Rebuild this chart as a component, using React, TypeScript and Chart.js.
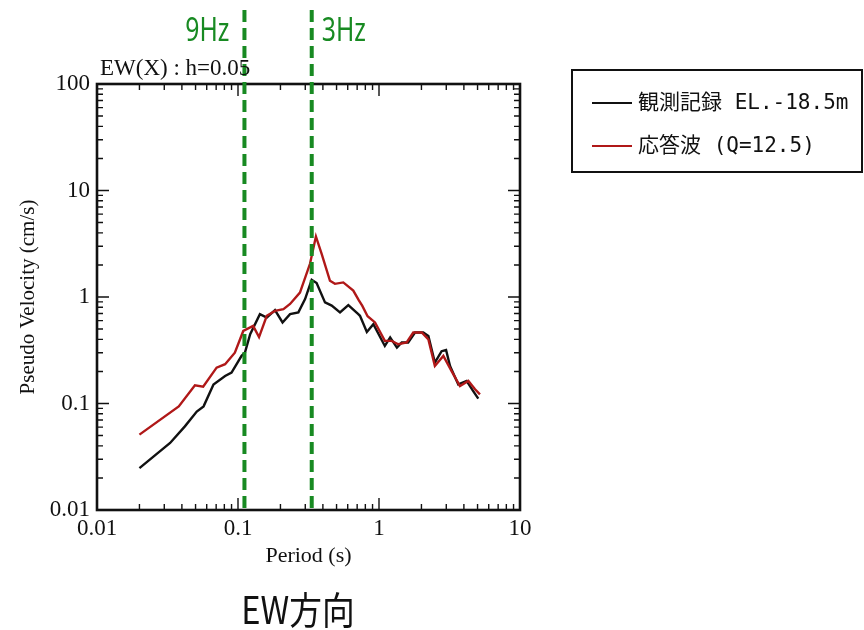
import React, { useEffect, useRef } from "react";
import { Chart, registerables } from "chart.js";

Chart.register(...registerables);

// ---- data (period in s, pseudo velocity in cm/s) ----
const observedPeriod = [0.020, 0.033, 0.042, 0.051, 0.057, 0.067, 0.081, 0.090, 0.106, 0.112, 0.122, 0.143, 0.160, 0.183, 0.207, 0.234, 0.268, 0.299, 0.333, 0.361, 0.414, 0.462, 0.529, 0.606, 0.713, 0.733, 0.82, 0.912, 1.10, 1.20, 1.34, 1.45, 1.61, 1.80, 2.06, 2.24, 2.49, 2.78, 2.99, 3.19, 3.65, 4.18, 4.67, 5.06];
const observedVelocity = [0.0247, 0.0426, 0.061, 0.084, 0.094, 0.151, 0.181, 0.195, 0.28, 0.30, 0.448, 0.69, 0.64, 0.754, 0.577, 0.69, 0.717, 0.957, 1.45, 1.35, 0.89, 0.83, 0.717, 0.84, 0.69, 0.666, 0.47, 0.556, 0.347, 0.417, 0.335, 0.374, 0.374, 0.464, 0.464, 0.431, 0.242, 0.31, 0.318, 0.225, 0.151, 0.163, 0.13, 0.111];

const responsePeriod = [0.020, 0.038, 0.0495, 0.0566, 0.0705, 0.081, 0.095, 0.109, 0.128, 0.141, 0.160, 0.183, 0.210, 0.234, 0.275, 0.324, 0.357, 0.392, 0.449, 0.487, 0.558, 0.657, 0.72, 0.76, 0.83, 0.937, 1.10, 1.23, 1.37, 1.57, 1.75, 2.01, 2.24, 2.49, 2.86, 3.28, 3.75, 4.30, 4.80, 5.20];
const responseVelocity = [0.051, 0.094, 0.148, 0.144, 0.217, 0.234, 0.30, 0.48, 0.536, 0.42, 0.666, 0.74, 0.77, 0.86, 1.1, 2.05, 3.7, 2.54, 1.42, 1.33, 1.37, 1.15, 0.93, 0.83, 0.66, 0.577, 0.387, 0.387, 0.36, 0.374, 0.464, 0.464, 0.40, 0.225, 0.28, 0.20, 0.146, 0.163, 0.136, 0.122];

const seriesLabels = ["観測記録 EL.-18.5m", "応答波 (Q=12.5)"];
const markerFreqs = [9, 3];
const markerLabels = ["9Hz", "3Hz"];
const xTickValues = [0.01, 0.1, 1, 10];
const xTickLabels = ["0.01", "0.1", "1", "10"];
const yTickValues = [0.01, 0.1, 1, 10, 100];
const yTickLabels = ["0.01", "0.1", "1", "10", "100"];
const chartTitle = "EW(X) : h=0.05";
const bottomCaption = "EW方向";

const GREEN = "#188a22";
const SERIF = '"Liberation Serif", "DejaVu Serif", serif';
const LEGEND_FONT = '"DejaVu Sans Mono", "Noto Sans CJK JP", monospace';

function labelFor(v: number, vals: number[], labels: string[]) {
  for (let i = 0; i < vals.length; i++) {
    if (Math.abs(Math.log10(v) - Math.log10(vals[i])) < 1e-6) return labels[i];
  }
  return "";
}

const overlay = {
  id: "overlay",
  afterDatasetsDraw(chart: any) {
    const { ctx, chartArea: a, scales } = chart;
    const xs = scales.x;
    const ys = scales.y;
    ctx.save();

    // inward ticks on all four sides
    ctx.strokeStyle = "#111";
    ctx.lineWidth = 1.4;
    for (let e = -2; e <= 1; e++) {
      for (let k = 1; k <= 9; k++) {
        const v = k * Math.pow(10, e);
        if (v > 10.0001) continue;
        const px = xs.getPixelForValue(v);
        const len = k === 1 ? 12 : 6;
        ctx.beginPath();
        ctx.moveTo(px, a.bottom);
        ctx.lineTo(px, a.bottom - len);
        ctx.moveTo(px, a.top);
        ctx.lineTo(px, a.top + len);
        ctx.stroke();
      }
    }
    for (let e = -2; e <= 2; e++) {
      for (let k = 1; k <= 9; k++) {
        const v = k * Math.pow(10, e);
        if (v > 100.001) continue;
        const py = ys.getPixelForValue(v);
        const len = k === 1 ? 12 : 6;
        ctx.beginPath();
        ctx.moveTo(a.left, py);
        ctx.lineTo(a.left + len, py);
        ctx.moveTo(a.right, py);
        ctx.lineTo(a.right - len, py);
        ctx.stroke();
      }
    }

    // frame
    ctx.lineWidth = 2.6;
    ctx.strokeRect(a.left, a.top, a.right - a.left, a.bottom - a.top);

    // frequency markers
    ctx.strokeStyle = GREEN;
    ctx.lineWidth = 4;
    ctx.setLineDash([12, 6]);
    markerFreqs.forEach((f, i) => {
      const px = xs.getPixelForValue(1 / f);
      ctx.beginPath();
      ctx.moveTo(px, 10);
      ctx.lineTo(px, a.bottom);
      ctx.stroke();
      ctx.save();
      ctx.fillStyle = GREEN;
      ctx.font = '33px "Noto Sans", "DejaVu Sans", sans-serif';
      ctx.textBaseline = "middle";
      const sx = 0.75;
      ctx.scale(sx, 1);
      if (i === 0) {
        ctx.textAlign = "right";
        ctx.fillText(markerLabels[i], (px - 15) / sx, 32);
      } else {
        ctx.textAlign = "left";
        ctx.fillText(markerLabels[i], (px + 10) / sx, 32);
      }
      ctx.restore();
    });
    ctx.setLineDash([]);

    // title
    ctx.fillStyle = "#111";
    ctx.font = "23px " + SERIF;
    ctx.textAlign = "left";
    ctx.textBaseline = "alphabetic";
    ctx.fillText(chartTitle, 100, 75);

    // legend
    ctx.strokeStyle = "#111";
    ctx.lineWidth = 2;
    ctx.strokeRect(572, 70, 290, 102);
    chart.data.datasets.forEach((ds: any, i: number) => {
      const y = 103 + i * 43;
      ctx.strokeStyle = ds.borderColor;
      ctx.lineWidth = 2.2;
      ctx.beginPath();
      ctx.moveTo(592, y);
      ctx.lineTo(632, y);
      ctx.stroke();
      ctx.fillStyle = "#111";
      ctx.font = "21px " + LEGEND_FONT;
      ctx.textBaseline = "middle";
      ctx.textAlign = "left";
      ctx.fillText(ds.label, 638, y + 1);
    });

    // caption
    ctx.save();
    ctx.fillStyle = "#111";
    ctx.font = '38px "Noto Sans CJK JP", sans-serif';
    ctx.textAlign = "center";
    ctx.textBaseline = "middle";
    const cs = 0.86;
    ctx.scale(cs, 1);
    ctx.fillText(bottomCaption, 298 / cs, 610);
    ctx.restore();

    ctx.restore();
  },
};

export default function App() {
  const ref = useRef<HTMLCanvasElement | null>(null);
  useEffect(() => {
    document.body.style.margin = "0";
    const canvas = ref.current;
    if (!canvas) return;
    const chart = new Chart(canvas, {
      type: "line",
      data: {
        datasets: [
          {
            label: seriesLabels[0],
            data: observedPeriod.map((p, i) => ({ x: p, y: observedVelocity[i] })),
            borderColor: "#111111",
            borderWidth: 2.4,
            pointRadius: 0,
            tension: 0,
            fill: false,
            order: 2,
          },
          {
            label: seriesLabels[1],
            data: responsePeriod.map((p, i) => ({ x: p, y: responseVelocity[i] })),
            borderColor: "#b01818",
            borderWidth: 2.4,
            pointRadius: 0,
            tension: 0,
            fill: false,
            order: 1,
          },
        ],
      },
      options: {
        animation: false,
        responsive: false,
        devicePixelRatio: 1,
        parsing: false as any,
        layout: { padding: { top: 84, right: 344, left: 0, bottom: 0 } },
        plugins: { legend: { display: false }, tooltip: { enabled: false }, title: { display: false } },
        scales: {
          x: {
            type: "logarithmic",
            min: 0.01,
            max: 10,
            grid: { display: false, drawTicks: false },
            border: { display: false },
            ticks: {
              autoSkip: false,
              maxRotation: 0,
              padding: 5,
              color: "#111",
              font: { family: SERIF, size: 23 },
              callback: (v: any) => labelFor(Number(v), xTickValues, xTickLabels),
            },
            title: {
              display: true,
              text: "Period (s)",
              color: "#111",
              font: { family: SERIF, size: 22 },
              padding: { top: 0, bottom: 61 },
            },
            afterFit: (s: any) => {
              s.height = 120;
            },
          },
          y: {
            type: "logarithmic",
            min: 0.01,
            max: 100,
            grid: { display: false, drawTicks: false },
            border: { display: false },
            ticks: {
              autoSkip: false,
              padding: 7,
              color: "#111",
              font: { family: SERIF, size: 23 },
              callback: (v: any) => labelFor(Number(v), yTickValues, yTickLabels),
            },
            title: {
              display: true,
              text: "Pseudo Velocity (cm/s)",
              color: "#111",
              font: { family: SERIF, size: 21 },
              padding: { top: 16, bottom: 0 },
            },
            afterFit: (s: any) => {
              s.width = 97;
            },
          },
        },
      },
      plugins: [overlay],
    });
    return () => chart.destroy();
  }, []);
  return (
    <div style={{ position: "fixed", left: 0, top: 0, width: 864, height: 630, background: "#fff" }}>
      <canvas ref={ref} width={864} height={630} style={{ width: 864, height: 630, display: "block" }} />
    </div>
  );
}
